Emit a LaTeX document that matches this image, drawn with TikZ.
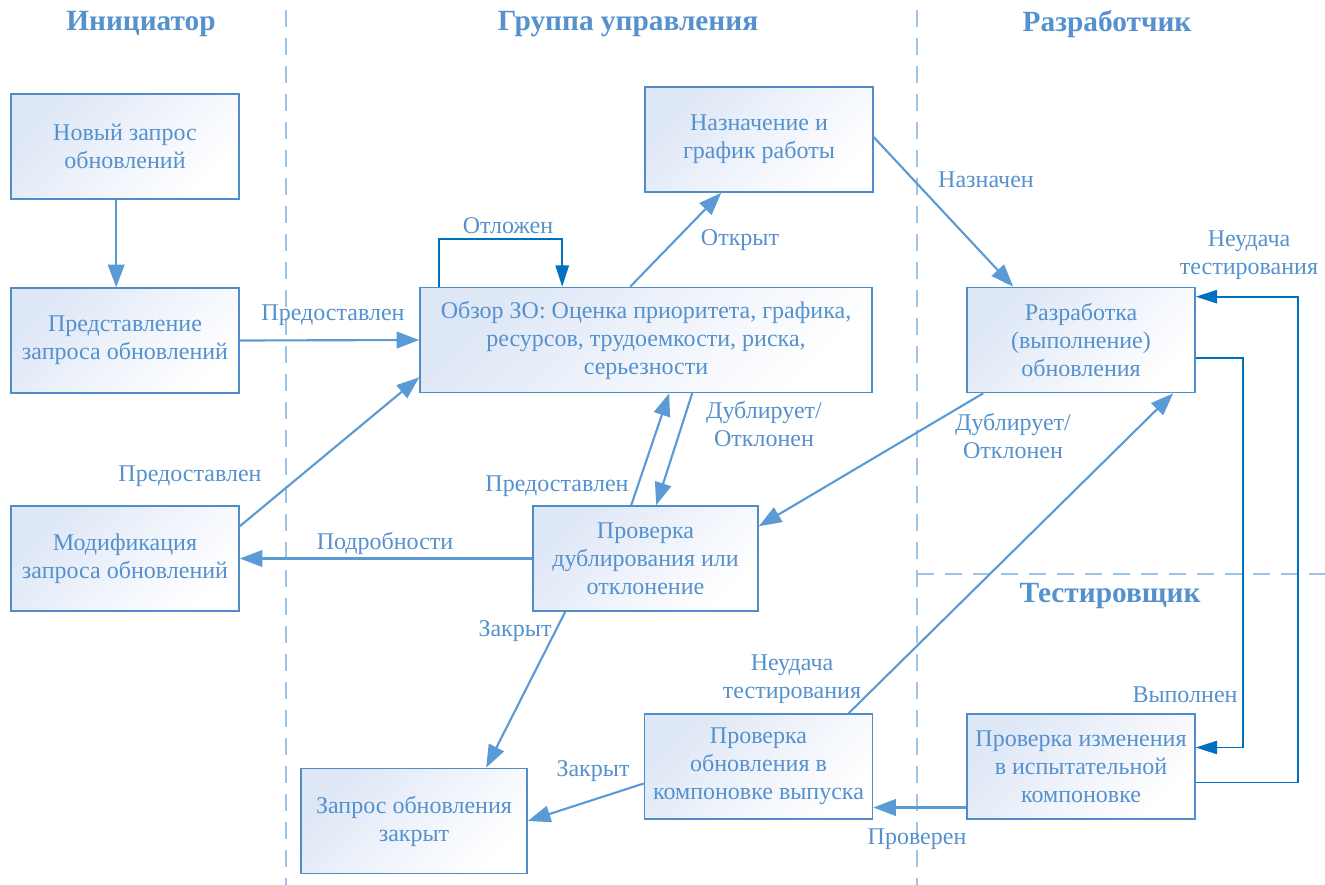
\documentclass[tikz,border=0pt]{standalone}
\usepackage{fontspec}
\setmainfont{Liberation Serif}
\usetikzlibrary{arrows.meta,calc}
\definecolor{ln}{RGB}{91,155,213}
\definecolor{dk}{RGB}{0,112,192}
\definecolor{tx}{RGB}{84,145,205}
\definecolor{dv}{RGB}{157,195,230}
\definecolor{bd}{RGB}{80,140,200}
\definecolor{bt}{RGB}{222,231,246}
\begin{document}
\begin{tikzpicture}[x=0.75pt,y=-0.75pt,
  box/.style={draw=bd, line width=1.2pt, top color=bt, bottom color=white, shading angle=45,
    minimum height=78.75pt, minimum width=171pt, inner sep=2pt, align=center,
    font=\fontsize{18}{21}\selectfont, text=tx},
  lbl/.style={text=tx, align=center, inner sep=1pt, font=\fontsize{18}{21}\selectfont},
  head/.style={text=tx, font=\fontsize{22}{26}\selectfont\bfseries},
  arr/.style={draw=ln, line width=1.6pt, -{Triangle[length=17pt,width=12.5pt]}},
  darr/.style={draw=dk, line width=1.3pt, -{Triangle[length=16pt,width=10pt]}},
  divider/.style={draw=dv, line width=1.5pt, dash pattern=on 12.75pt off 8.25pt}]
\useasboundingbox (0,0) rectangle (1325,885);
% lanes
\draw[divider] (286,10) -- (286,885);
\draw[divider] (917,10) -- (917,885);
\draw[divider] (917,574) -- (1325,574);
\node[head] (h1) at (141,24) {Инициатор};
\node[head] (h2) at (628,24) {Группа управления};
\node[head] (h3) at (1107,24) {Разработчик};
\node[head] (h4) at (1110,596) {Тестировщик};
% boxes
\node[box] (n1) at (125,146.5) {Новый запрос\\обновлений};
\node[box] (n2) at (125,340.5) {Представление\\запроса обновлений};
\node[box] (n3) at (125,558.5) {Модификация\\запроса обновлений};
\node[box] (n4) at (759,139.5) {Назначение и\\график работы};
\node[box, minimum width=339pt] (n5) at (646,340) {Обзор ЗО: Оценка приоритета, графика,\\ресурсов, трудоемкости, риска,\\серьезности};
\node[box] (n6) at (1081,340) {Разработка\\(выполнение)\\обновления};
\node[box, minimum width=168.75pt] (n7) at (645.5,558.5) {Проверка\\дублирования или\\отклонение};
\node[box, minimum width=169.5pt] (n8) at (414,821) {Запрос обновления\\закрыт};
\node[box] (n9) at (758.5,766.5) {Проверка\\обновления в\\компоновке выпуска};
\node[box] (n10) at (1081,766.5) {Проверка изменения\\в испытательной\\компоновке};
% connectors
\draw[arr] ($(n1.south west)+(106,0)$) -- ($(n2.north west)+(106,0)$);
\draw[arr] (n2.east) -- (n5.west);
\draw[arr] ($(n3.north east)+(0,21)$) -- ($(n5.south west)+(0,-16)$);
\draw[darr] ($(n5.north west)+(20,0)$) -- ++(0,-48) -| ($(n5.north west)+(143,0)$);
\draw[arr] ($(n5.north west)+(211,0)$) -- ($(n4.south west)+(77,0)$);
\draw[arr] ($(n4.north east)+(0,51)$) -- ($(n6.north west)+(47,0)$);
\draw[arr] ($(n5.south west)+(273,0)$) -- ($(n7.north west)+(124,0)$);
\draw[arr] ($(n7.north west)+(99,0)$) -- ($(n5.south west)+(250,0)$);
\draw[arr] ($(n6.south west)+(17,0)$) -- ($(n7.north east)+(0,21)$);
\draw[arr] (n7.west) -- (n3.east);
\draw[arr] ($(n7.south west)+(33,0)$) -- ($(n8.north west)+(186,0)$);
\draw[arr] ($(n9.west)+(0,17)$) -- (n8.east);
\draw[arr] ($(n9.north west)+(205,0)$) -- ($(n6.south west)+(207,0)$);
\draw[darr] ($(n6.east)+(0,18)$) -- ++(47,0) |- ($(n10.east)+(0,-19)$);
\draw[darr] ($(n10.east)+(0,16)$) -- ++(102,0) |- ($(n6.north east)+(0,10)$);
\draw[arr] ($(n10.west)+(0,41)$) -- ($(n9.east)+(0,41)$);
% labels
\node[lbl] (l1) at (333,315) {Предоставлен};
\node[lbl] (l2) at (190,476) {Предоставлен};
\node[lbl] (l3) at (508,226) {Отложен};
\node[lbl] (l4) at (740,240) {Открыт};
\node[lbl] (l5) at (986,180) {Назначен};
\node[lbl] (l6) at (764,424) {Дублирует/\\Отклонен};
\node[lbl] (l7) at (557,486) {Предоставлен};
\node[lbl] (l8) at (1013,436) {Дублирует/\\Отклонен};
\node[lbl] (l9) at (385,543) {Подробности};
\node[lbl] (l10) at (515,631) {Закрыт};
\node[lbl] (l11) at (593,771) {Закрыт};
\node[lbl] (l12) at (792,679) {Неудача\\тестирования};
\node[lbl] (l13) at (1185,695) {Выполнен};
\node[lbl] (l14) at (1249,255) {Неудача\\тестирования};
\node[lbl] (l15) at (917,839) {Проверен};
\end{tikzpicture}
\end{document}
